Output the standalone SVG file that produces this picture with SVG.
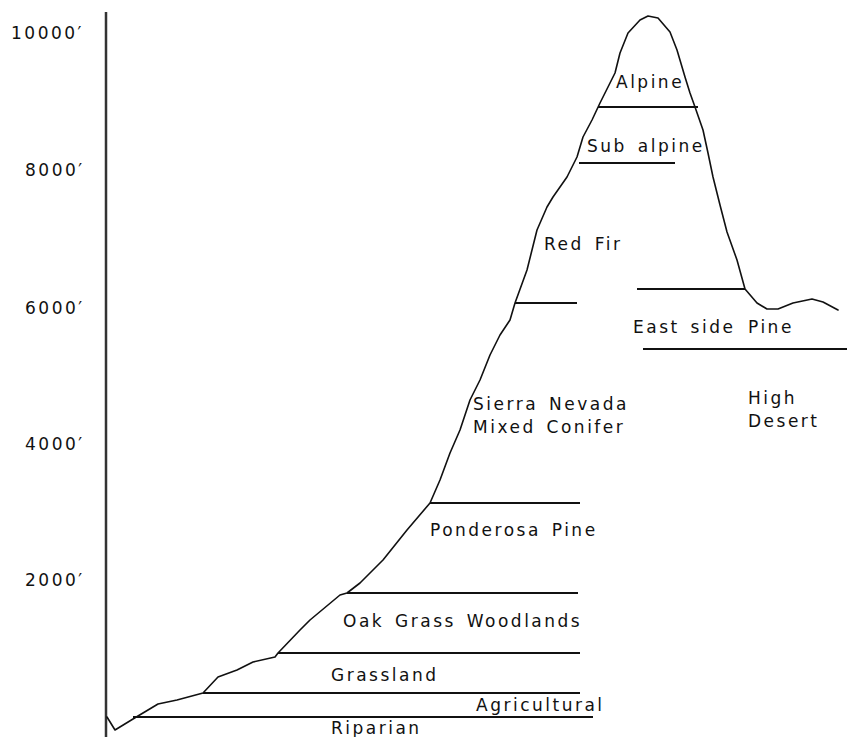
<svg xmlns="http://www.w3.org/2000/svg" width="847" height="737" viewBox="0 0 847 737">
<style>
text{font-family:"DejaVu Sans",Verdana,sans-serif;font-size:17px;fill:#111;letter-spacing:2.5px;word-spacing:3px}
.zl{stroke:#111;stroke-width:2;fill:none}
.prof{stroke:#111;stroke-width:1.6;fill:none;stroke-linejoin:round;stroke-linecap:round}
.axis{stroke:#333;stroke-width:2.5;fill:none}
</style>
<rect width="847" height="737" fill="#fff"/>
<g id="axis">
<line class="axis" x1="106" y1="12" x2="106" y2="737"/>
<text x="11" y="39">10000′</text>
<text x="25" y="176">8000′</text>
<text x="25" y="314">6000′</text>
<text x="25" y="450">4000′</text>
<text x="25" y="586">2000′</text>
</g>
<g id="connectors">
<polyline id="profile" class="prof" points="107,717 115,730 133,719 158,704 177,700 203,693 218,677 237,670 253,662 275,657 278,653 300,630 310,620 340,595 347,593 360,583 383,560 407,530 430,503 440,480 450,453 460,430 470,400 480,380 490,355 500,335 510,320 515,303 527,270 537,230 547,207 553,197 567,177 577,157 583,137 592,120 600,103 615,73 620,53 628,33 640,20 648,16 658,18 670,32 677,50 685,77 690,93 695,107 703,130 708,153 713,177 720,205 727,232 737,260 745,289 757,303 767,309 778,309 793,303 812,299 823,302 838,310"/>
</g>
<g id="alpine"><line class="zl" x1="598" y1="107" x2="698" y2="107"/><text x="616" y="88">Alpine</text></g>
<g id="subalpine"><line class="zl" x1="579" y1="163" x2="675" y2="163"/><text x="587" y="152">Sub alpine</text></g>
<g id="redfir"><line class="zl" x1="515" y1="303" x2="577" y2="303"/><text x="544" y="250">Red Fir</text></g>
<g id="eastside"><line class="zl" x1="637" y1="289" x2="745" y2="289"/><text x="633" y="333">East side<tspan x="748">Pine</tspan></text></g>
<g id="highdesert"><line class="zl" x1="643" y1="349" x2="847" y2="349"/><text x="748" y="404">High</text><text x="748" y="427">Desert</text></g>
<g id="mixedconifer"><text x="473" y="410">Sierra Nevada</text><text x="473" y="433">Mixed Conifer</text></g>
<g id="ponderosa"><line class="zl" x1="430" y1="503" x2="580" y2="503"/><text x="430" y="536">Ponderosa Pine</text></g>
<g id="oak"><line class="zl" x1="347" y1="593" x2="578" y2="593"/><text x="343" y="627">Oak Grass Woodlands</text></g>
<g id="grassland"><line class="zl" x1="278" y1="653" x2="580" y2="653"/><text x="331" y="681">Grassland</text></g>
<g id="agricultural"><line class="zl" x1="203" y1="693" x2="580" y2="693"/><text x="476" y="711">Agricultural</text></g>
<g id="riparian"><line class="zl" x1="133" y1="717" x2="593" y2="717"/><text x="331" y="734">Riparian</text></g>
</svg>
